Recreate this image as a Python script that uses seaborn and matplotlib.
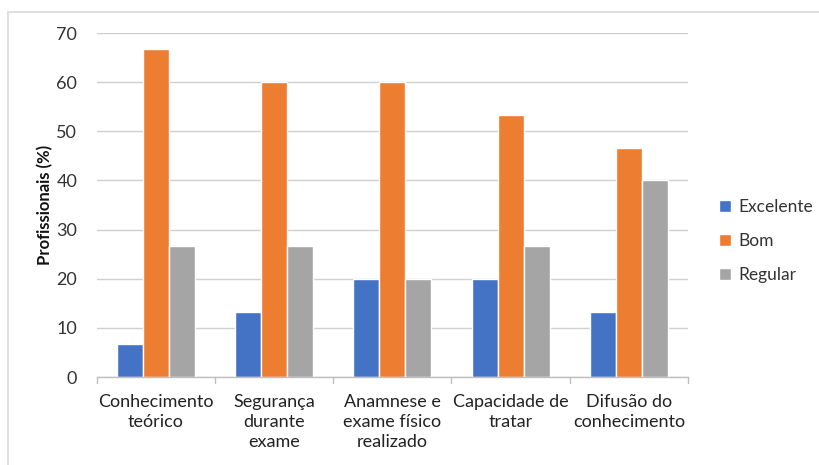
import matplotlib
matplotlib.use("Agg")
import matplotlib.pyplot as plt
import seaborn as sns
import pandas as pd
from matplotlib.patches import Rectangle

categories = ["Conhecimento\nteórico", "Segurança\ndurante\nexame", "Anamnese e\nexame físico\nrealizado",
              "Capacidade de\ntratar", "Difusão do\nconhecimento"]
series = ["Excelente", "Bom", "Regular"]
excelente = [6.67, 13.33, 20.0, 20.0, 13.33]
bom = [66.67, 60.0, 60.0, 53.33, 46.67]
regular = [26.67, 26.67, 20.0, 26.67, 40.0]
yticks = [0, 10, 20, 30, 40, 50, 60, 70]

colors = ["#4472C4", "#ED7D31", "#A5A5A5"]

df = pd.DataFrame({
    "categoria": categories * 3,
    "serie": [s for s in series for _ in categories],
    "valor": excelente + bom + regular,
})

sns.set_theme(style="white")
plt.rcParams["font.family"] = ["Lato", "DejaVu Sans"]

fig = plt.figure(figsize=(8.2, 4.65), dpi=100)
ax = fig.add_axes([0.118, 0.189, 0.721, 0.740])

sns.barplot(data=df, x="categoria", y="valor", hue="serie", palette=colors,
            width=0.66, saturation=1, ax=ax, errorbar=None, legend=True)

ax.set_ylim(0, 70)
ax.set_xlim(-0.5, len(categories) - 0.5)
ax.set_yticks(yticks)
ax.set_yticklabels([str(v) for v in yticks], fontsize=13, color="#333333")
ax.tick_params(axis="y", length=0, pad=14)
ax.tick_params(axis="x", length=0, pad=12, labelsize=13, labelcolor="#222222")
for lbl in ax.get_xticklabels():
    lbl.set_linespacing(1.3)
ax.set_xlabel("")
ax.set_ylabel("Profissionais (%)", fontsize=12, fontweight="bold", color="#111111")
ax.yaxis.set_label_coords(-0.073, 0.5)

ax.grid(axis="y", color="#d0d0d0", linewidth=1)
ax.set_axisbelow(True)
for side in ["top", "right", "left"]:
    ax.spines[side].set_visible(False)
ax.spines["bottom"].set_color("#bfbfbf")
ax.spines["bottom"].set_linewidth(1)

# category separator ticks below the axis
for b in [i - 0.5 for i in range(len(categories) + 1)]:
    ax.plot([b, b], [0, -1.2], color="#bfbfbf", linewidth=1, clip_on=False)

leg = ax.legend(loc="center left", bbox_to_anchor=(1.04, 0.395), frameon=False,
                fontsize=12.5, handlelength=0.7, handleheight=0.7, handletextpad=0.45,
                labelspacing=1.05, borderaxespad=0.0)
for t in leg.get_texts():
    t.set_color("#333333")

fig.patches.append(Rectangle((0.01, -0.02), 0.99, 0.995, transform=fig.transFigure,
                             fill=False, edgecolor="#d9d9d9", linewidth=1.2))

fig.savefig("out.png", dpi=100)
